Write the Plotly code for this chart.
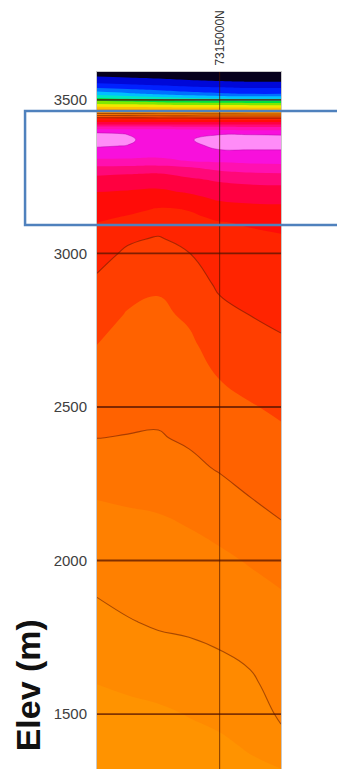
import plotly.graph_objects as go

# ---------------- data ----------------
NORTHING = [7313000, 7313500, 7314000, 7314500, 7315000, 7315500, 7316000]

ELEV = [3600, 3580, 3560, 3540, 3520, 3500, 3490, 3480, 3470, 3460, 3450, 3440,
        3430, 3420, 3410, 3400, 3390, 3370, 3350, 3340, 3320, 3300, 3280, 3260,
        3240, 3220, 3200, 3180, 3160, 3140, 3120, 3100, 3050, 3000, 2900, 2800,
        2700, 2600, 2500, 2400, 2300, 2200, 2100, 2000, 1900, 1800, 1700, 1600,
        1500, 1400, 1300]

# model value (class index) per elevation row, one value per northing column
Z = [
    [0, 0, 0, 0, 0, 0, 0],
    [0.85, 0.76, 0.68, 0.59, 0.54, 0.5, 0.5],
    [1.65, 1.48, 1.31, 1.14, 1.04, 0.97, 0.97],
    [2.92, 2.68, 2.44, 2.19, 2.05, 1.95, 1.95],
    [4.6, 4.2, 3.8, 3.4, 3.16, 3.0, 3.0],
    [6.7, 6.4, 6.1, 5.8, 5.6, 5.5, 5.5],
    [7.7, 7.52, 7.35, 7.18, 7.07, 7.0, 7.0],
    [8.7, 8.62, 8.55, 8.48, 8.43, 8.4, 8.4],
    [10.14, 10.0, 9.86, 9.71, 9.63, 9.57, 9.57],
    [11.8, 11.7, 11.57, 11.45, 11.38, 11.33, 11.33],
    [14.75, 14.65, 14.54, 14.44, 14.37, 14.33, 14.33],
    [17.6, 17.5, 17.4, 17.3, 17.24, 17.2, 17.2],
    [18.8, 18.78, 18.78, 18.78, 18.76, 18.75, 18.75],
    [20.0, 20.0, 20.05, 20.0, 20.0, 20.0, 20.0],
    [21.5, 21.5, 21.6, 21.4, 21.3, 21.2, 21.2],
    [22.46, 22.4, 22.3, 22.3, 22.2, 22.15, 22.12],
    [23.2, 22.95, 22.45, 22.7, 22.9, 22.9, 22.85],
    [23.6, 23.25, 22.3, 22.9, 23.5, 23.5, 23.5],
    [23.1, 22.95, 22.4, 22.7, 23.25, 23.25, 23.25],
    [22.83, 22.73, 22.35, 22.5, 23.05, 23.05, 23.05],
    [22.36, 22.31, 22.2, 22.3, 22.6, 22.64, 22.65],
    [21.75, 21.74, 21.71, 21.99, 22.12, 22.21, 22.24],
    [20.83, 20.78, 20.69, 20.94, 21.35, 21.6, 21.69],
    [20.14, 20.04, 19.96, 20.31, 20.68, 20.87, 20.95],
    [19.71, 19.63, 19.56, 19.82, 20.14, 20.36, 20.44],
    [19.36, 19.25, 19.16, 19.45, 19.77, 19.9, 19.95],
    [19.0, 18.91, 18.81, 19.09, 19.46, 19.59, 19.63],
    [18.8, 18.67, 18.48, 18.73, 19.15, 19.27, 19.32],
    [18.6, 18.43, 18.16, 18.36, 18.83, 18.96, 19.0],
    [18.4, 18.18, 17.89, 18.01, 18.5, 18.66, 18.74],
    [18.2, 17.95, 17.67, 17.86, 18.17, 18.37, 18.48],
    [17.99, 17.72, 17.44, 17.71, 17.96, 18.07, 18.22],
    [17.68, 17.15, 16.94, 17.33, 17.76, 17.85, 17.91],
    [17.35, 16.84, 16.66, 16.98, 17.55, 17.68, 17.76],
    [16.81, 16.34, 16.11, 16.56, 17.14, 17.34, 17.47],
    [16.40, 15.93, 15.83, 16.13, 16.76, 17.01, 17.19],
    [15.99, 15.71, 15.61, 15.83, 16.40, 16.64, 16.87],
    [15.66, 15.47, 15.40, 15.60, 16.04, 16.29, 16.51],
    [15.33, 15.23, 15.18, 15.36, 15.71, 15.94, 16.15],
    [15.01, 14.97, 14.94, 15.12, 15.39, 15.62, 15.83],
    [14.51, 14.53, 14.54, 14.79, 15.07, 15.30, 15.53],
    [14.01, 14.08, 14.14, 14.38, 14.64, 14.98, 15.23],
    [13.70, 13.78, 13.84, 13.98, 14.19, 14.53, 14.89],
    [13.38, 13.51, 13.59, 13.70, 13.84, 14.07, 14.41],
    [13.07, 13.24, 13.34, 13.43, 13.55, 13.76, 13.97],
    [12.72, 12.95, 13.10, 13.16, 13.26, 13.47, 13.76],
    [12.36, 12.54, 12.74, 12.84, 12.97, 13.18, 13.56],
    [12.01, 12.14, 12.30, 12.44, 12.59, 12.86, 13.35],
    [11.7, 11.78, 11.85, 12.04, 12.22, 12.49, 13.14],
    [11.45, 11.5, 11.55, 11.7, 11.85, 12.11, 12.71],
    [11.2, 11.25, 11.3, 11.4, 11.5, 11.75, 11.8],
]

ELEV_TICKS = [1500, 2000, 2500, 3000, 3500]
SECTION_TICKS = [7315000]
SECTION_LABELS = ["7315000N"]
HIGHLIGHT_ELEV = [3093, 3464]   # elevation span of the blue highlight box

# one colour per class band (class k covers values k..k+1)
BAND_COLORS = [
    "#06001c", "#0008d8", "#0020ff", "#0070ff", "#00c0ff", "#00e8c0",
    "#00e040", "#80e800", "#f0e800", "#ffc000", "#ffa600", "#ff9300",
    "#ff8a00", "#ff8000", "#ff7400", "#ff6200", "#ff3e00", "#ff2400",
    "#ff0c08", "#ff0040", "#ff0878", "#ff10b0", "#f810dc", "#ff8cf8",
]

# ---------------- figure ----------------
n = len(BAND_COLORS) - 1
colorscale = [[k / n, c] for k, c in enumerate(BAND_COLORS)]

fig = go.Figure()
fig.add_trace(go.Contour(
    x=NORTHING, y=ELEV, z=Z,
    autocontour=False,
    contours=dict(start=1, end=n, size=1, coloring="fill", showlines=False),
    colorscale=colorscale, showscale=False,
    line=dict(width=0, smoothing=1.3),
    hoverinfo="skip",
))
fig.add_trace(go.Contour(
    x=NORTHING, y=ELEV, z=Z,
    autocontour=False,
    contours=dict(start=13, end=17, size=2, coloring="none"),
    line=dict(color="rgba(100,25,0,0.55)", width=1.1, smoothing=1.3),
    showscale=False, hoverinfo="skip",
))
fig.add_trace(go.Contour(
    x=NORTHING, y=ELEV, z=Z,
    autocontour=False,
    contours=dict(start=23, end=23, size=1, coloring="none"),
    line=dict(color="rgba(150,0,150,0.45)", width=0.8, smoothing=1.3),
    showscale=False, hoverinfo="skip",
))

shapes = []
for t in ELEV_TICKS:
    shapes.append(dict(type="line", xref="paper", x0=0, x1=1, yref="y", y0=t, y1=t,
                       line=dict(color="rgba(85,20,0,0.75)", width=1.8), layer="above"))
for v in SECTION_TICKS:
    shapes.append(dict(type="line", xref="x", x0=v, x1=v, yref="paper", y0=0, y1=1,
                       line=dict(color="rgba(70,20,0,0.7)", width=1), layer="above"))
shapes.append(dict(type="rect", xref="paper", x0=-0.391, x1=1.337, yref="y",
                   y0=HIGHLIGHT_ELEV[0], y1=HIGHLIGHT_ELEV[1],
                   line=dict(color="rgb(79,129,189)", width=2.5),
                   fillcolor="rgba(0,0,0,0)", layer="above"))

# the page body adds an 8 px offset, so the figure is drawn 8 px smaller
fig.update_layout(
    width=337, height=761,
    margin=dict(l=89, r=64, t=64, b=0, autoexpand=False),
    paper_bgcolor="white", plot_bgcolor="white",
    font=dict(family="Liberation Sans, Arial, sans-serif", color="#404040"),
    showlegend=False,
    shapes=shapes,
    annotations=[dict(
        text="Elev (m)", xref="paper", yref="paper", x=-0.375, y=0.12,
        xanchor="center", yanchor="middle", textangle=-90, showarrow=False,
        font=dict(size=34, color="#111111", weight="bold",
                  family="Liberation Sans, Arial, sans-serif"),
    )],
    xaxis=dict(
        range=[7313000, 7316000], side="top",
        tickvals=SECTION_TICKS, ticktext=SECTION_LABELS, tickangle=-90,
        tickfont=dict(size=12, color="#333333"),
        ticks="outside", ticklen=3, tickcolor="rgba(0,0,0,0)",
        showgrid=False, zeroline=False,
        showline=True, linecolor="#c8c8c8", linewidth=1, mirror=True,
    ),
    yaxis=dict(
        range=[1321, 3591],
        tickvals=ELEV_TICKS, tickfont=dict(size=15, color="#404040"),
        ticks="outside", ticklen=6, tickcolor="rgba(0,0,0,0)",
        showgrid=False, zeroline=False,
        showline=True, linecolor="#c8c8c8", linewidth=1, mirror=True,
    ),
)

fig.write_html("out.html")
